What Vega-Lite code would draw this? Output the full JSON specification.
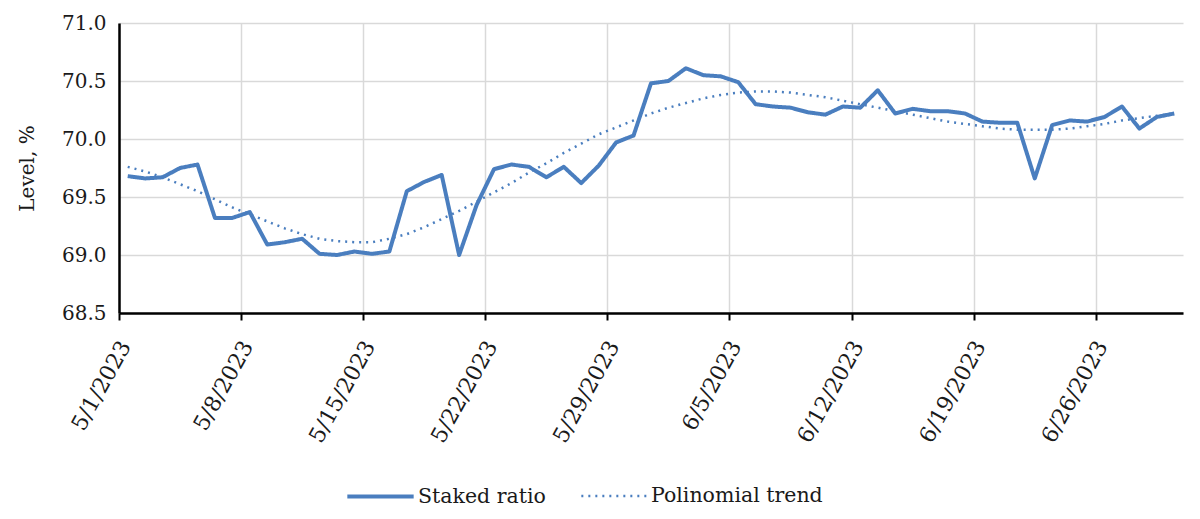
{
  "$schema": "https://vega.github.io/schema/vega-lite/v6.json",
  "width": 1064,
  "height": 290,
  "autosize": {"type": "none"},
  "padding": {"left": 119, "top": 23, "right": 17, "bottom": 206},
  "background": "white",
  "config": {
    "font": "DejaVu Serif",
    "view": {"stroke": null}
  },
  "data": {
    "values": [
      {"date": "2023-05-01", "Staked ratio": 69.68, "Polinomial trend": 69.76},
      {"date": "2023-05-02", "Staked ratio": 69.66, "Polinomial trend": 69.72},
      {"date": "2023-05-03", "Staked ratio": 69.67, "Polinomial trend": 69.67},
      {"date": "2023-05-04", "Staked ratio": 69.75, "Polinomial trend": 69.61},
      {"date": "2023-05-05", "Staked ratio": 69.78, "Polinomial trend": 69.55},
      {"date": "2023-05-06", "Staked ratio": 69.32, "Polinomial trend": 69.48},
      {"date": "2023-05-07", "Staked ratio": 69.32, "Polinomial trend": 69.41},
      {"date": "2023-05-08", "Staked ratio": 69.37, "Polinomial trend": 69.35},
      {"date": "2023-05-09", "Staked ratio": 69.09, "Polinomial trend": 69.29},
      {"date": "2023-05-10", "Staked ratio": 69.11, "Polinomial trend": 69.23},
      {"date": "2023-05-11", "Staked ratio": 69.14, "Polinomial trend": 69.18},
      {"date": "2023-05-12", "Staked ratio": 69.01, "Polinomial trend": 69.14},
      {"date": "2023-05-13", "Staked ratio": 69.00, "Polinomial trend": 69.12},
      {"date": "2023-05-14", "Staked ratio": 69.03, "Polinomial trend": 69.11},
      {"date": "2023-05-15", "Staked ratio": 69.01, "Polinomial trend": 69.11},
      {"date": "2023-05-16", "Staked ratio": 69.03, "Polinomial trend": 69.14},
      {"date": "2023-05-17", "Staked ratio": 69.55, "Polinomial trend": 69.18},
      {"date": "2023-05-18", "Staked ratio": 69.63, "Polinomial trend": 69.24},
      {"date": "2023-05-19", "Staked ratio": 69.69, "Polinomial trend": 69.31},
      {"date": "2023-05-20", "Staked ratio": 69.00, "Polinomial trend": 69.38},
      {"date": "2023-05-21", "Staked ratio": 69.43, "Polinomial trend": 69.46},
      {"date": "2023-05-22", "Staked ratio": 69.74, "Polinomial trend": 69.54},
      {"date": "2023-05-23", "Staked ratio": 69.78, "Polinomial trend": 69.62},
      {"date": "2023-05-24", "Staked ratio": 69.76, "Polinomial trend": 69.71},
      {"date": "2023-05-25", "Staked ratio": 69.67, "Polinomial trend": 69.79},
      {"date": "2023-05-26", "Staked ratio": 69.76, "Polinomial trend": 69.88},
      {"date": "2023-05-27", "Staked ratio": 69.62, "Polinomial trend": 69.96},
      {"date": "2023-05-28", "Staked ratio": 69.77, "Polinomial trend": 70.04},
      {"date": "2023-05-29", "Staked ratio": 69.97, "Polinomial trend": 70.10},
      {"date": "2023-05-30", "Staked ratio": 70.03, "Polinomial trend": 70.16},
      {"date": "2023-05-31", "Staked ratio": 70.48, "Polinomial trend": 70.22},
      {"date": "2023-06-01", "Staked ratio": 70.50, "Polinomial trend": 70.27},
      {"date": "2023-06-02", "Staked ratio": 70.61, "Polinomial trend": 70.31},
      {"date": "2023-06-03", "Staked ratio": 70.55, "Polinomial trend": 70.35},
      {"date": "2023-06-04", "Staked ratio": 70.54, "Polinomial trend": 70.38},
      {"date": "2023-06-05", "Staked ratio": 70.49, "Polinomial trend": 70.40},
      {"date": "2023-06-06", "Staked ratio": 70.30, "Polinomial trend": 70.41},
      {"date": "2023-06-07", "Staked ratio": 70.28, "Polinomial trend": 70.41},
      {"date": "2023-06-08", "Staked ratio": 70.27, "Polinomial trend": 70.40},
      {"date": "2023-06-09", "Staked ratio": 70.23, "Polinomial trend": 70.38},
      {"date": "2023-06-10", "Staked ratio": 70.21, "Polinomial trend": 70.36},
      {"date": "2023-06-11", "Staked ratio": 70.28, "Polinomial trend": 70.33},
      {"date": "2023-06-12", "Staked ratio": 70.27, "Polinomial trend": 70.30},
      {"date": "2023-06-13", "Staked ratio": 70.42, "Polinomial trend": 70.27},
      {"date": "2023-06-14", "Staked ratio": 70.22, "Polinomial trend": 70.24},
      {"date": "2023-06-15", "Staked ratio": 70.26, "Polinomial trend": 70.21},
      {"date": "2023-06-16", "Staked ratio": 70.24, "Polinomial trend": 70.18},
      {"date": "2023-06-17", "Staked ratio": 70.24, "Polinomial trend": 70.15},
      {"date": "2023-06-18", "Staked ratio": 70.22, "Polinomial trend": 70.13},
      {"date": "2023-06-19", "Staked ratio": 70.15, "Polinomial trend": 70.11},
      {"date": "2023-06-20", "Staked ratio": 70.14, "Polinomial trend": 70.09},
      {"date": "2023-06-21", "Staked ratio": 70.14, "Polinomial trend": 70.08},
      {"date": "2023-06-22", "Staked ratio": 69.66, "Polinomial trend": 70.08},
      {"date": "2023-06-23", "Staked ratio": 70.12, "Polinomial trend": 70.08},
      {"date": "2023-06-24", "Staked ratio": 70.16, "Polinomial trend": 70.09},
      {"date": "2023-06-25", "Staked ratio": 70.15, "Polinomial trend": 70.11},
      {"date": "2023-06-26", "Staked ratio": 70.19, "Polinomial trend": 70.13},
      {"date": "2023-06-27", "Staked ratio": 70.28, "Polinomial trend": 70.16},
      {"date": "2023-06-28", "Staked ratio": 70.09, "Polinomial trend": 70.18},
      {"date": "2023-06-29", "Staked ratio": 70.19, "Polinomial trend": 70.20},
      {"date": "2023-06-30", "Staked ratio": 70.22, "Polinomial trend": 70.22}
    ]
  },
  "transform": [
    {"fold": ["Staked ratio", "Polinomial trend"], "as": ["series", "value"]}
  ],
  "mark": {"type": "line", "strokeJoin": "round"},
  "encoding": {
    "x": {
      "field": "date",
      "type": "temporal",
      "timeUnit": "utcyearmonthdate",
      "bandPosition": 0.5,
      "scale": {
        "type": "utc",
        "domain": [
          {"year": 2023, "month": 5, "date": 1, "utc": true},
          {"year": 2023, "month": 7, "date": 1, "utc": true}
        ]
      },
      "axis": {
        "title": null,
        "values": [
          {"year": 2023, "month": 5, "date": 1, "utc": true},
          {"year": 2023, "month": 5, "date": 8, "utc": true},
          {"year": 2023, "month": 5, "date": 15, "utc": true},
          {"year": 2023, "month": 5, "date": 22, "utc": true},
          {"year": 2023, "month": 5, "date": 29, "utc": true},
          {"year": 2023, "month": 6, "date": 5, "utc": true},
          {"year": 2023, "month": 6, "date": 12, "utc": true},
          {"year": 2023, "month": 6, "date": 19, "utc": true},
          {"year": 2023, "month": 6, "date": 26, "utc": true}
        ],
        "format": "%-m/%-d/%Y",
        "labelAngle": -61,
        "labelAlign": "right",
        "labelBaseline": "middle",
        "labelOffset": 6,
        "labelPadding": 22,
        "labelFontSize": 22,
        "labelColor": "#1a1a1a",
        "labelFont": "DejaVu Serif",
        "labelFlush": false,
        "labelOverlap": false,
        "domainColor": "#000000",
        "domainWidth": 2.5,
        "tickColor": "#000000",
        "tickWidth": 2,
        "tickSize": 7,
        "grid": true,
        "gridColor": "#D9D9D9",
        "gridWidth": 1.5
      }
    },
    "y": {
      "field": "value",
      "type": "quantitative",
      "scale": {"domain": [68.5, 71], "zero": false, "nice": false},
      "axis": {
        "title": "Level, %",
        "titleFont": "DejaVu Serif",
        "titleFontSize": 20,
        "titleFontWeight": "normal",
        "titleColor": "#1a1a1a",
        "titleX": -92,
        "titleY": 145,
        "titleAngle": -90,
        "titleAlign": "center",
        "titleBaseline": "middle",
        "values": [68.5, 69, 69.5, 70, 70.5, 71],
        "format": ".1f",
        "labelFontSize": 20,
        "labelColor": "#1a1a1a",
        "labelFont": "DejaVu Serif",
        "labelPadding": 13,
        "ticks": false,
        "domainColor": "#000000",
        "domainWidth": 2.5,
        "grid": true,
        "gridColor": "#D9D9D9",
        "gridWidth": 1.5
      }
    },
    "color": {
      "field": "series",
      "type": "nominal",
      "scale": {"domain": ["Staked ratio", "Polinomial trend"], "range": ["#4A7EBF", "#4A7EBF"]},
      "legend": {
        "title": null,
        "orient": "none",
        "legendX": 226,
        "legendY": 438,
        "direction": "horizontal",
        "symbolType": "stroke",
        "symbolSize": 4400,
        "symbolStrokeWidth": 4,
        "labelFont": "DejaVu Serif",
        "labelFontSize": 20.5,
        "labelColor": "#1a1a1a",
        "labelOffset": 2,
        "columnPadding": 30,
        "labelLimit": 300
      }
    },
    "strokeDash": {
      "field": "series",
      "type": "nominal",
      "scale": {"domain": ["Staked ratio", "Polinomial trend"], "range": [[1, 0], [2, 5]]},
      "legend": null
    },
    "strokeWidth": {
      "field": "series",
      "type": "nominal",
      "scale": {"domain": ["Staked ratio", "Polinomial trend"], "range": [4, 2.5]},
      "legend": null
    }
  }
}
